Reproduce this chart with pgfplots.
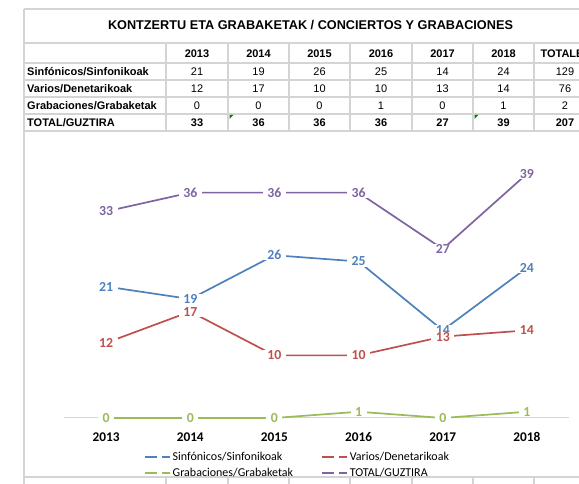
\documentclass[border=0pt]{standalone}
\usepackage{pgfplots}
\pgfplotsset{compat=1.18}
\usepackage{fontspec}
\setmainfont{Liberation Sans}
\newfontfamily\carlito{Carlito}
\definecolor{cBlue}{RGB}{79,129,189}
\definecolor{cRed}{RGB}{192,80,77}
\definecolor{cGreen}{RGB}{155,187,89}
\definecolor{cPurple}{RGB}{128,100,162}
\definecolor{tgray}{RGB}{212,212,212}
\definecolor{xlgreen}{RGB}{0,128,0}
\begin{document}
\begin{tikzpicture}
\clip (0,0) rectangle (579pt,484pt);
\fill[white] (0,0) rectangle (579pt,484pt);
\begin{scope}[shift={(0,484pt)}, x=1pt, y=-1pt]
  % grid
  \draw[tgray, line width=1.6pt] (24,9) -- (600,9);
  \draw[tgray, line width=1.6pt] (24,9) -- (24,490);
  \foreach \yy in {43,63,80,97,114} \draw[tgray, line width=1.4pt] (24,\yy) -- (600,\yy);
  \draw[tgray, line width=1.8pt] (24,131) -- (600,131);
  \foreach \xx in {166,228,289,350,412,473,534} {
    \draw[tgray, line width=1.4pt] (\xx,43) -- (\xx,131);
    \draw[tgray, line width=1.4pt] (\xx,477) -- (\xx,490);
  }
  \draw[tgray, line width=1.4pt] (24,477) -- (600,477);
  % error triangles
  \fill[xlgreen] (229.5,115) -- (233.5,115) -- (229.5,119) -- cycle;
  \fill[xlgreen] (474.5,115) -- (478.5,115) -- (474.5,119) -- cycle;
  % title
  \node[font=\bfseries\fontsize{12.7}{14}\selectfont] at (310.5,25) {KONTZERTU ETA GRABAKETAK / CONCIERTOS Y GRABACIONES};
  % header
  \foreach \xx/\t in {197/2013,258.5/2014,319.5/2015,381/2016,442.5/2017,503.5/2018}
    \node[font=\bfseries\fontsize{11}{13}\selectfont] at (\xx,54) {\t};
  \node[font=\bfseries\fontsize{11}{13}\selectfont, anchor=west] at (537,54) {TOTALES};
  % row labels
  \node[font=\bfseries\fontsize{11}{13}\selectfont, anchor=west, inner sep=0pt] at (27,72) {Sinfónicos/Sinfonikoak};
  \node[font=\bfseries\fontsize{11}{13}\selectfont, anchor=west, inner sep=0pt] at (27,89) {Varios/Denetarikoak};
  \node[font=\bfseries\fontsize{11}{13}\selectfont, anchor=west, inner sep=0pt] at (27,106) {Grabaciones/Grabaketak};
  \node[font=\bfseries\fontsize{11}{13}\selectfont, anchor=west, inner sep=0pt] at (27,123) {TOTAL/GUZTIRA};
  % values
  \foreach \xx/\a/\b/\c/\d in {197/21/12/0/33,258.5/19/17/0/36,319.5/26/10/0/36,381/25/10/1/36,442.5/14/13/0/27,503.5/24/14/1/39,565/129/76/2/207} {
    \node[font=\fontsize{11}{13}\selectfont] at (\xx,72) {\a};
    \node[font=\fontsize{11}{13}\selectfont] at (\xx,89) {\b};
    \node[font=\fontsize{11}{13}\selectfont] at (\xx,106) {\c};
    \node[font=\bfseries\fontsize{11}{13}\selectfont] at (\xx,123) {\d};
  }
\end{scope}
\begin{axis}[
  at={(64pt,66pt)}, anchor=south west,
  scale only axis, width=505pt, height=281.7pt,
  xmin=0.5, xmax=6.5, ymin=0, ymax=45,
  clip=false,
  /pgf/number format/assume math mode=true,
  hide y axis,
  axis x line*=bottom,
  x axis line style={draw=tgray, line width=1pt, -},
  xtick={1,2,3,4,5,6},
  xticklabels={2013,2014,2015,2016,2017,2018},
  major tick length=0pt,
  xticklabel style={font=\carlito\bfseries\fontsize{13.3}{15}\selectfont, anchor=base, yshift=-23.5pt, text=black},
  every axis plot/.append style={line width=1.7pt},
  nodes near coords,
  nodes near coords align={anchor=center},
  every node near coord/.append style={font=\carlito\bfseries\fontsize{13.8}{15}\selectfont, fill=white, inner xsep=4.5pt, inner ysep=0.5pt},
  legend image code/.code={\draw[#1, line width=1.7pt] (0pt,0pt) -- (12pt,0pt); \draw[#1, line width=1.7pt] (17pt,0pt) -- (25pt,0pt);},
  legend columns=2,
  legend cell align=left,
  legend style={at={(0.158,-0.114)}, anchor=north west, draw=none, fill=none, inner sep=0pt,
    font=\carlito\fontsize{12}{13}\selectfont, row sep=2pt,
    /tikz/every even column/.append style={column sep=26pt}},
]
\addplot[cBlue, every node near coord/.append style={text=cBlue}] coordinates {(1,21) (2,19) (3,26) (4,25) (5,14) (6,24)};
\addlegendentry{Sinfónicos/Sinfonikoak}
\addplot[cRed, every node near coord/.append style={text=cRed}] coordinates {(1,12) (2,17) (3,10) (4,10) (5,13) (6,14)};
\addlegendentry{Varios/Denetarikoak}
\addplot[cGreen, every node near coord/.append style={text=cGreen}] coordinates {(1,0) (2,0) (3,0) (4,1) (5,0) (6,1)};
\addlegendentry{Grabaciones/Grabaketak}
\addplot[cPurple, every node near coord/.append style={text=cPurple}] coordinates {(1,33) (2,36) (3,36) (4,36) (5,27) (6,39)};
\addlegendentry{TOTAL/GUZTIRA}
\end{axis}
\end{tikzpicture}
\end{document}
